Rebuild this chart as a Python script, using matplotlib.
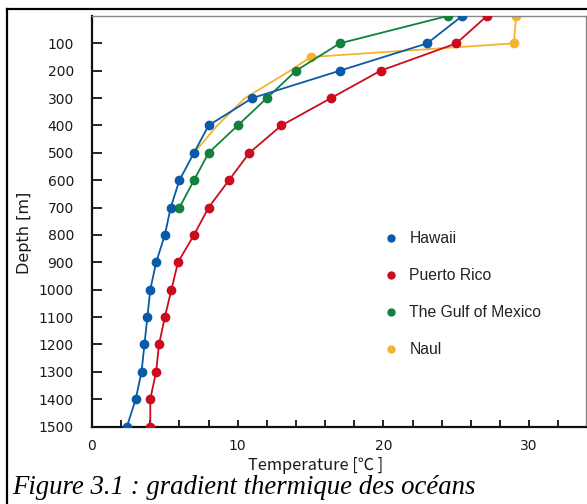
import numpy as np
import matplotlib
matplotlib.use("Agg")
import matplotlib.pyplot as plt
from matplotlib.ticker import MultipleLocator, FixedLocator

# depth profiles (temperature in degC, depth in m)
depth_std = [0, 100, 200, 300, 400, 500, 600, 700, 800, 900,
             1000, 1100, 1200, 1300, 1400, 1500]
hawaii = [25.4, 23.0, 17.0, 11.0, 8.0, 7.0, 6.0, 5.4, 5.0, 4.4,
          4.0, 3.8, 3.6, 3.4, 3.0, 2.4]
puerto_rico = [27.1, 25.0, 19.8, 16.4, 13.0, 10.8, 9.4, 8.0, 7.0, 5.9,
               5.45, 5.0, 4.6, 4.4, 4.0, 4.0]
gulf_depth = [0, 100, 200, 300, 400, 500, 600, 700]
gulf = [24.4, 17.0, 14.0, 12.0, 10.0, 8.0, 7.0, 6.0]
naul_depth = [0, 100, 150, 200, 300, 400, 500]
naul = [29.1, 28.95, 15.0, 13.6, 10.5, 8.6, 7.0]
naul_marked = [0, 1, 2]

names = ["Hawaii", "Puerto Rico", "The Gulf of Mexico", "Naul"]
colors = ["#0b5aa8", "#cc0b1c", "#13803f", "#f6b42c"]

tick_font = "Liberation Sans Narrow"

fig = plt.figure(figsize=(5.87, 5.04), dpi=100)
ax = fig.add_axes([92/587, 1-426.5/504, 494/587, 410.5/504])

ms = 6
lw = 1.3
ax.plot(naul, naul_depth, color=colors[3], lw=lw, marker="o", ms=ms,
        markevery=naul_marked, zorder=2)
ax.plot(gulf, gulf_depth, color=colors[2], lw=lw, marker="o", ms=ms, zorder=3)
ax.plot(puerto_rico, depth_std, color=colors[1], lw=lw, marker="o", ms=ms, zorder=4)
ax.plot(hawaii, depth_std, color=colors[0], lw=lw, marker="o", ms=ms, zorder=5)

ax.set_xlim(0, 33.9)
ax.set_ylim(1500, 0)
ax.xaxis.set_major_locator(FixedLocator([0, 10, 20, 30]))
ax.xaxis.set_minor_locator(MultipleLocator(2))
ax.yaxis.set_major_locator(FixedLocator(range(100, 1600, 100)))
ax.tick_params(axis="x", which="both", direction="in", length=5, width=1.2,
               pad=9, labelsize=10)
ax.tick_params(axis="y", direction="in", length=7, width=1.2, pad=13,
               labelsize=10)
for lab in ax.get_xticklabels() + ax.get_yticklabels():
    lab.set_family(tick_font)
    lab.set_color("#1a1a1a")

for side in ["left", "bottom"]:
    ax.spines[side].set_linewidth(1.6)
    ax.spines[side].set_color("#111111")
for side in ["top", "right"]:
    ax.spines[side].set_linewidth(1.0)
    ax.spines[side].set_color("#888888")

# legend: markers only
handles = [ax.plot([], [], ls="none", marker="o", ms=5, color=c)[0] for c in colors]
fig.legend(handles, names, loc="upper left", bbox_to_anchor=(367/587, 1-217/504),
           frameon=False, prop={"family": "Liberation Sans", "size": 11.3},
           handletextpad=0.6, labelspacing=1.4, handlelength=1.2,
           labelcolor="#222222")

fig.text(25/587, 1-233/504, "Depth [m]", rotation=90, ha="center", va="center",
         family=tick_font, fontsize=11.5, color="#1a1a1a")
fig.text(316/587, 1-465/504, "Temperature [℃ ]", ha="center", va="center",
         family=[tick_font, "Noto Sans CJK JP"], fontsize=11.8, color="#1a1a1a")
fig.text(12/587, 1-487/504, "Figure 3.1 : gradient thermique des océans",
         ha="left", va="center", family="Liberation Serif", style="italic",
         fontsize=19.3, color="black")

# outer frame lines (top and left)
fig.add_artist(plt.Line2D([7/587, 1], [1-8.5/504, 1-8.5/504], color="black",
                          lw=1.6, transform=fig.transFigure))
fig.add_artist(plt.Line2D([7/587, 7/587], [0, 1-8.5/504], color="black",
                          lw=1.6, transform=fig.transFigure))

fig.savefig("out.png", dpi=100)
